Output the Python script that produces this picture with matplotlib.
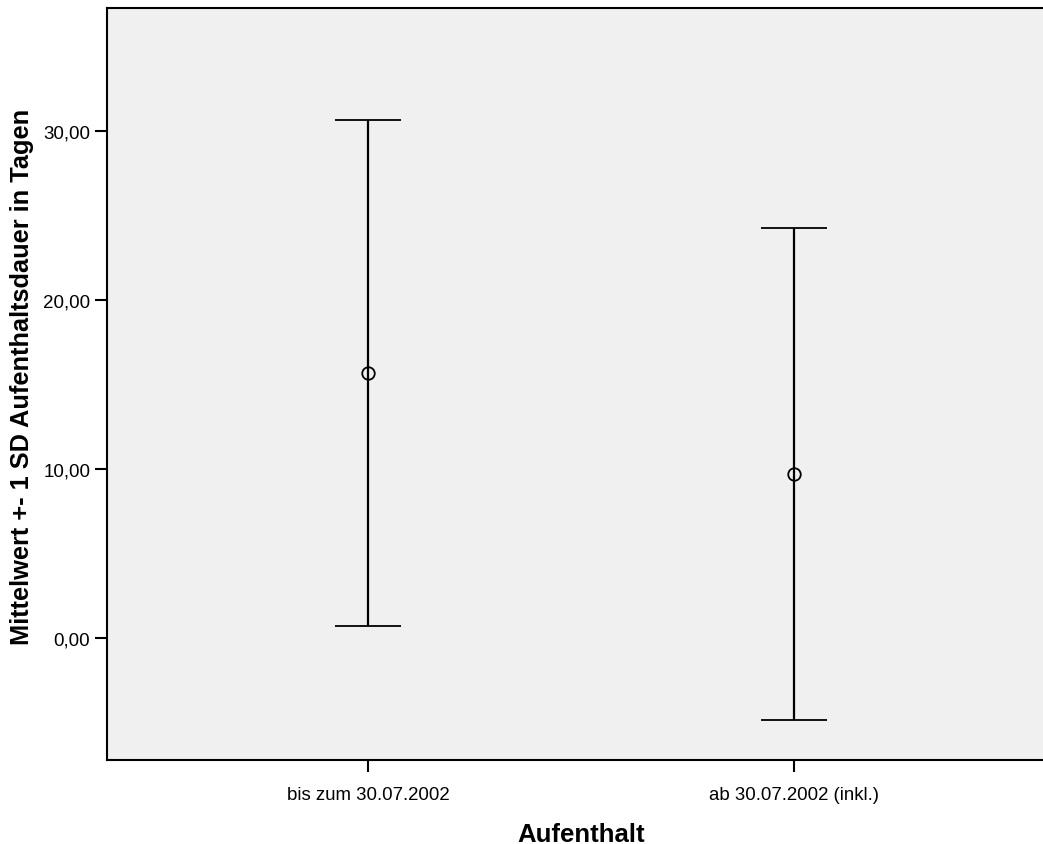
import matplotlib
matplotlib.use("Agg")
import matplotlib.pyplot as plt
import numpy as np

plt.rcParams['font.family'] = ['Liberation Sans', 'DejaVu Sans']

categories = ["bis zum 30.07.2002", "ab 30.07.2002 (inkl.)"]
means = [15.68, 9.70]
sds = [14.97, 14.55]
yticks = [0, 10, 20, 30]
ytick_labels = ["0,00", "10,00", "20,00", "30,00"]

fig = plt.figure(figsize=(10.43, 8.45), dpi=100)
ax = fig.add_axes([107/1043, 1-761/845, 1-107/1043, (761-9)/845])
ax.set_facecolor('#f0f0f0')

x = np.arange(1, len(categories)+1)
ax.errorbar(x, means, yerr=sds, fmt='o', color='black', mfc='none', mec='black',
            ms=9, mew=1.3, ecolor='black', elinewidth=1.6, capsize=24, capthick=1.6)

ax.set_xlim(0.387, 2.585)
ax.set_ylim(-7.22, 37.28)
ax.set_xticks(x)
ax.set_xticklabels(categories, fontsize=13.4)
ax.set_yticks(yticks)
ax.set_yticklabels(ytick_labels, fontsize=13.5)
ax.tick_params(axis='both', direction='out', length=8.5, width=1.5, color='black')
ax.tick_params(axis='y', pad=3.5)
ax.tick_params(axis='x', pad=10.5)

for s in ['left', 'bottom', 'top']:
    ax.spines[s].set_linewidth(1.5)
    ax.spines[s].set_color('black')
ax.spines['right'].set_visible(False)

ax.set_xlabel("Aufenthalt", fontsize=18.5, fontweight='bold')
ax.set_ylabel("Mittelwert +- 1 SD Aufenthaltsdauer in Tagen", fontsize=18.3, fontweight='bold')
ax.xaxis.set_label_coords((581.5-107)/936, (761-823)/752)
ax.yaxis.set_label_coords((34-107)/936, (761-377)/752)

fig.savefig("out.png", dpi=100)
